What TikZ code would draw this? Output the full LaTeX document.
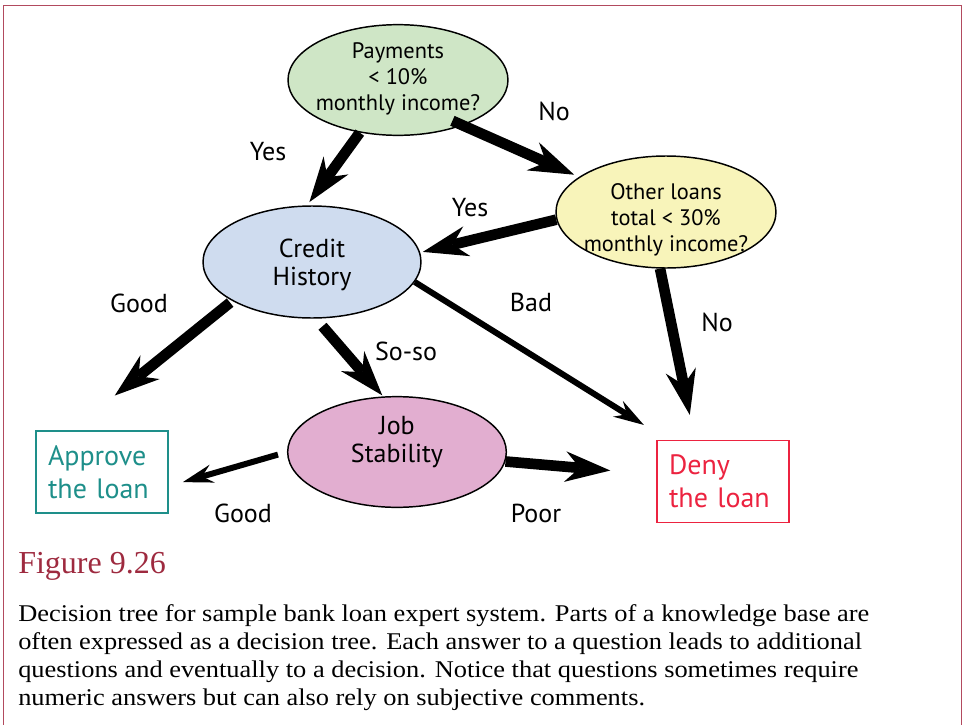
\documentclass[tikz,border=0pt]{standalone}
\usepackage{fontspec}
\setmainfont{PT Sans}
\newfontfamily\capfont[FakeStretch=1.1]{Liberation Serif}
\newfontfamily\figfont{Liberation Serif}
\usetikzlibrary{arrows.meta,shapes.geometric}

\definecolor{framecol}{RGB}{178,74,94}
\definecolor{paygreen}{RGB}{207,230,198}
\definecolor{loanyellow}{RGB}{248,244,186}
\definecolor{credblue}{RGB}{207,220,239}
\definecolor{jobpink}{RGB}{226,174,208}
\definecolor{approveteal}{RGB}{30,143,138}
\definecolor{denyred}{RGB}{236,35,64}
\definecolor{figred}{RGB}{158,42,63}

\begin{document}
\begin{tikzpicture}[x=0.75pt,y=-0.75pt,
  question/.style={ellipse, draw=black, line width=1.1pt, minimum width=165pt,
    minimum height=83pt, inner sep=0pt},
  qtext/.style={align=center, font=\fontsize{16.8}{19.5}\selectfont},
  btext/.style={align=center, font=\fontsize{19.5}{21}\selectfont},
  verdict/.style={rectangle, line width=1.1pt, minimum height=61.5pt, text width=81pt,
    inner xsep=9pt, align=left, font=\fontsize{21}{24.75}\selectfont},
  answer/.style={font=\fontsize{19.5}{21}\selectfont, anchor=base, inner sep=0pt},
  bigarrow/.style={line width=8pt, -{Stealth[length=34pt,width=23pt,inset=11pt,line width=0pt]}},
  slimarrow/.style={line width=4.5pt, -{Stealth[length=23pt,width=14pt,inset=8pt,line width=0pt]}},
]
\path[use as bounding box] (0,0) rectangle (965,725);

% page frame
\begin{scope}
  \clip (0,0) rectangle (965,725);
  \draw[framecol, line width=1.1pt] (3.5,5.5) rectangle (961.5,760);
\end{scope}

% questions
\node[question, fill=paygreen,
  label={[qtext, yshift=1pt]center:Payments\\< 10\%\\monthly income?}] (pay) at (398,80) {};
\node[question, fill=loanyellow, minimum height=84pt,
  label={[qtext, yshift=-5.5pt]center:Other loans\\total < 30\%\\monthly income?}] (other) at (666,212) {};
\node[question, fill=credblue, minimum width=163.5pt, minimum height=84pt,
  label={[btext, yshift=-2pt]center:Credit\\History}] (credit) at (312,262) {};
\node[question, fill=jobpink, minimum width=164pt,
  label={[btext, yshift=7.5pt]center:Job\\Stability}] (job) at (397,452) {};

% decisions
\node[verdict, draw=approveteal, text=approveteal] (approve) at (102,472) {Approve\\the loan};
\node[verdict, draw=denyred, text=denyred] (deny) at (723,481.5) {Deny\\the loan};

% branches
\draw[bigarrow, shorten >=3pt] (pay.234) -- (credit.95);
\draw[bigarrow, shorten <=-8.6pt, shorten >=4pt] (pay.325) -- (other.158);
\draw[bigarrow, shorten >=2pt] (other.184) -- (credit.5);
\draw[slimarrow, shorten >=21pt] (credit.349) -- (deny.143);
\draw[bigarrow, shorten >=19pt] (other.264) -- (deny.124);
\draw[bigarrow, shorten <=2pt, shorten >=41.5pt] (credit.206) -- (approve.126);
\draw[bigarrow, shorten <=7.5pt, shorten >=1pt] (credit.274) -- (job.104);
\draw[slimarrow, shorten <=7pt, shorten >=11pt] (job.180) -- (approve.348);
\draw[bigarrow, shorten >=34.6pt] (job.355) -- (deny.174);

% branch answers
\node[answer] (yesA) at (268,160) {Yes};
\node[answer] (noA) at (554,120) {No};
\node[answer] (yesB) at (470,216) {Yes};
\node[answer] (goodA) at (139,312) {Good};
\node[answer] (bad) at (531,311) {Bad};
\node[answer] (soso) at (406,360) {So-so};
\node[answer] (noB) at (717,331) {No};
\node[answer] (goodB) at (243,522) {Good};
\node[answer] (poor) at (536,522) {Poor};

% caption (base anchor of a multi-line node sits on its last line)
\node[anchor=base west, inner sep=0pt, text=figred,
  font=\figfont\fontsize{24}{28}\selectfont] (figno) at (18,573) {Figure 9.26};
\node[anchor=base west, inner sep=0pt, align=left,
  font=\capfont\fontsize{18}{21}\selectfont] (caption) at (18,705)
  {Decision tree for sample bank loan expert system. Parts of a knowledge base are\\
   often expressed as a decision tree. Each answer to a question leads to additional\\
   questions and eventually to a decision. Notice that questions sometimes require\\
   numeric answers but can also rely on subjective comments.};
\end{tikzpicture}
\end{document}
